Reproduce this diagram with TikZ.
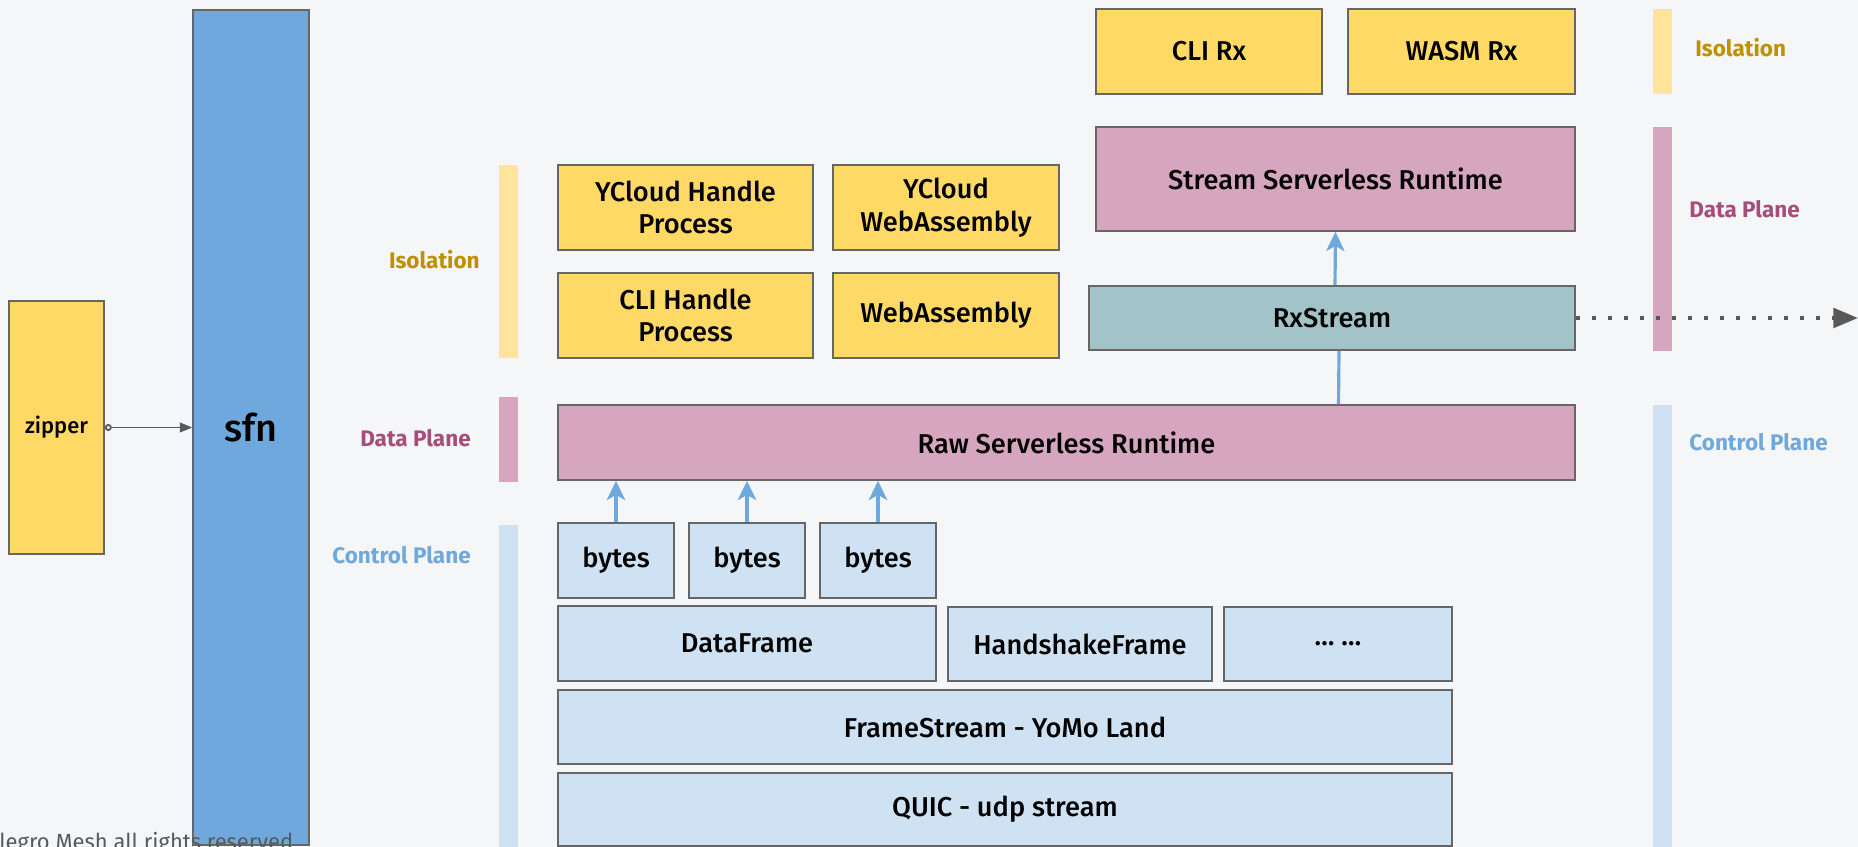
\documentclass[tikz,border=0pt]{standalone}
\usepackage{fontspec}
\setmainfont{Fira Sans}
\newfontfamily\medfont{Fira Sans Medium}
\usetikzlibrary{arrows.meta,calc}

\definecolor{pagebg}{HTML}{F5F6F8}
\definecolor{boxline}{HTML}{666666}
\definecolor{isoyellow}{HTML}{FFD966}
\definecolor{isobar}{HTML}{FFE599}
\definecolor{isotext}{HTML}{BF9000}
\definecolor{sfnblue}{HTML}{6FA8DC}
\definecolor{datapink}{HTML}{D5A6BD}
\definecolor{datatext}{HTML}{A64D79}
\definecolor{ctrlblue}{HTML}{CFE2F3}
\definecolor{rxteal}{HTML}{A2C4C9}
\definecolor{linegray}{HTML}{595959}

\def\u{0.02cm}

\begin{document}
\begin{tikzpicture}[x=\u, y=-\u, >=Stealth,
		wh/.style 2 args={minimum width=#1*\u, minimum height=#2*\u},
		box/.style={draw=boxline, line width=0.9pt, align=center, inner sep=0pt,
			font=\medfont\fontsize{15.5}{18.5}\selectfont},
		ybox/.style={box, fill=isoyellow},
		pbox/.style={box, fill=datapink},
		cbox/.style={box, fill=ctrlblue},
		bar/.style={draw=none, inner sep=0pt, minimum width=19*\u},
		sidelabel/.style={font=\bfseries\fontsize{12.8}{15}\selectfont, inner sep=0pt},
		flow/.style={sfnblue, line width=1.8pt, -{Stealth[length=11pt, width=10.5pt, inset=3pt]}},
		flowline/.style={sfnblue, line width=1.8pt}]
		
		% ---------- Page ----------
		\fill[pagebg] (0,0) rectangle (1858,847);
		\useasboundingbox (0,0) rectangle (1858,847);
		
		% ---------- zipper and sfn ----------
		\node[ybox, wh={95}{253}, font=\medfont\fontsize{12.5}{15}\selectfont] (zipper) at (56.5,427.5) {zipper};
		\node[box, fill=sfnblue, wh={116}{835}, font=\medfont\fontsize{21.5}{24}\selectfont] (sfn) at (251,427.5) {sfn};
		\draw[linegray, line width=1pt, {Circle[open, length=4pt]}-{Triangle[length=7pt, width=5.5pt]}]
		(zipper.east) -- (sfn.west);
		
		% ---------- Side bars, left ----------
		\node[bar, fill=isobar, minimum height=193*\u] (isoL) at (508.5,261.5) {};
		\node[bar, fill=datapink, minimum height=85*\u] (dataL) at (508.5,439.5) {};
		\node[bar, fill=ctrlblue, minimum height=322*\u] (ctrlL) at (508.5,686) {};
		\node[sidelabel, text=isotext, anchor=east] (isoLtxt) at (480,260) {Isolation};
		\node[sidelabel, text=datatext, anchor=east] (dataLtxt) at (471,438) {Data Plane};
		\node[sidelabel, text=sfnblue, anchor=east] (ctrlLtxt) at (471,555) {Control Plane};
		
		% ---------- Side bars, right ----------
		\node[bar, fill=isobar, minimum height=85*\u] (isoR) at (1662.5,51.5) {};
		\node[bar, fill=datapink, minimum height=224*\u] (dataR) at (1662.5,239) {};
		\node[bar, fill=ctrlblue, minimum height=442*\u] (ctrlR) at (1662.5,626) {};
		\node[sidelabel, text=isotext, anchor=west] (isoRtxt) at (1695,48) {Isolation};
		\node[sidelabel, text=datatext, anchor=west] (dataRtxt) at (1689,209) {Data Plane};
		\node[sidelabel, text=sfnblue, anchor=west] (ctrlRtxt) at (1689,442) {Control Plane};
		
		% ---------- Isolation layer ----------
		\node[ybox, wh={255}{85}] (ycproc) at (685.5,207.5) {YCloud Handle\\Process};
		\node[ybox, wh={226}{85}] (ycwasm) at (946,207.5) {YCloud\\WebAssembly};
		\node[ybox, wh={255}{85}] (cliproc) at (685.5,315.5) {CLI Handle\\Process};
		\node[ybox, wh={226}{85}] (wasm) at (946,315.5) {WebAssembly};
		\node[ybox, wh={226}{85}] (clirx) at (1209,51.5) {CLI Rx};
		\node[ybox, wh={227}{85}] (wasmrx) at (1461.5,51.5) {WASM Rx};
		
		% ---------- Data plane ----------
		\node[pbox, wh={479}{104}] (ssr) at (1335.5,179) {Stream Serverless Runtime};
		\node[box, fill=rxteal, wh={486}{64}] (rxs) at (1332,318) {RxStream};
		\node[pbox, wh={1017}{75}] (raw) at (1066.5,442.5) {Raw Serverless Runtime};
		
		% ---------- Control plane ----------
		\node[cbox, wh={116}{75}] (bytesA) at (616,560.5) {bytes};
		\node[cbox, wh={116}{75}] (bytesB) at (747,560.5) {bytes};
		\node[cbox, wh={116}{75}] (bytesC) at (878,560.5) {bytes};
		\node[cbox, wh={378}{75}] (dframe) at (747,643.5) {DataFrame};
		\node[cbox, wh={264}{74}] (hframe) at (1080,644) {HandshakeFrame};
		\node[cbox, wh={228}{74}] (moreframe) at (1338,644) {\dots\ \dots};
		\node[cbox, wh={894}{74}] (fstream) at (1005,727) {FrameStream - YoMo Land};
		\node[cbox, wh={894}{73}] (quic) at (1005,809.5) {QUIC - udp stream};
		
		% ---------- Flows ----------
		\foreach \b in {bytesA,bytesB,bytesC}
		\draw[flow] (\b.north) -- (\b.north |- raw.south);
		\draw[flowline] ($(raw.north)+(272,0)$) -- ($(rxs.south)+(7,0)$);
		\draw[flow] ($(rxs.north)+(3,0)$) -- ($(ssr.south)+(0,0)$);
		
		\coordinate (outR) at (1858,318);
		\draw[linegray, line width=2.4pt, dash pattern=on 2.4pt off 6.7pt,
		-{Triangle[length=14pt, width=11pt]}] (rxs.east) -- (outR);
		
		% ---------- Footer ----------
		\node[anchor=base west, inner sep=0pt, text=linegray, font=\fontsize{12.5}{14}\selectfont] (footer) at (-1,849) {legro Mesh all rights reserved};
		
	\end{tikzpicture}
\end{document}
